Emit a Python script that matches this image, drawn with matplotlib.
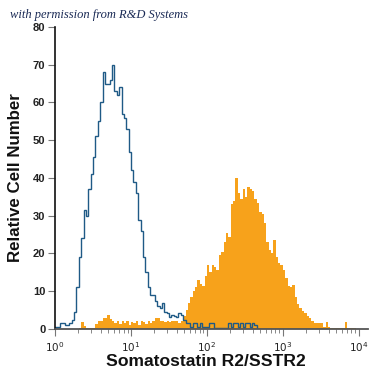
import numpy as np
import matplotlib
matplotlib.use("Agg")
import matplotlib.pyplot as plt
from matplotlib.ticker import LogLocator, LogFormatterMathtext, NullFormatter

# ---- data ----
# 128 log-spaced channels from 10^0 to 10^4
x_start_exp = 0
x_end_exp = 4
n_bins = 128

isotype_counts = [
    0.5, 0.5, 1.5, 1.5, 1.0, 1.0, 1.5, 2.3, 4.5, 11.0,
    19.0, 24.0, 31.5, 30.0, 37.0, 41.0, 45.5, 51.0, 55.0, 60.0,
    68.0, 65.0, 65.0, 66.0, 70.0, 63.0, 62.0, 64.0, 57.0, 56.0,
    53.0, 47.0, 42.0, 39.0, 36.0, 29.0, 26.0, 19.0, 15.0, 11.0,
    9.0, 9.0, 7.5, 6.0, 5.5, 6.8, 4.5, 4.2, 3.2, 3.7,
    3.5, 3.2, 4.2, 3.7, 2.5, 1.5, 1.5, 0.5, 1.5, 1.5,
    0.5, 1.5, 0.4, 0.4, 0.4, 1.5, 1.5, 0.3, 0.3, 0.3,
    0.3, 0.3, 0.3, 1.5, 0.5, 1.5, 1.5, 0.5, 1.5, 0.5,
    1.5, 1.5, 0.5, 1.5, 1.0, 0.0, 0.0, 0.0, 0.0, 0.0,
    0.0, 0.0, 0.0, 0.0, 0.0, 0.0, 0.0, 0.0, 0.0, 0.0,
    0.0, 0.0, 0.0, 0.0, 0.0, 0.0, 0.0, 0.0, 0.0, 0.0,
    0.0, 0.0, 0.0, 0.0, 0.0, 0.0, 0.0, 0.0, 0.0, 0.0,
    0.0, 0.0, 0.0, 0.0, 0.0, 0.0, 0.0, 0.0,
]

sstr2_counts = [
    0.0, 0.0, 0.0, 0.0, 0.0, 0.0, 0.0, 0.0, 0.0, 0.0,
    0.3, 1.8, 0.8, 0.2, 0.2, 0.2, 0.3, 1.2, 2.2, 2.0,
    2.8, 3.0, 3.7, 2.6, 2.2, 1.5, 2.0, 1.2, 2.0, 1.5,
    2.0, 1.0, 1.8, 1.6, 2.0, 1.0, 2.0, 1.8, 1.2, 2.0,
    1.6, 2.2, 3.0, 3.0, 2.2, 2.0, 1.8, 2.0, 1.8, 2.0,
    2.0, 2.2, 1.6, 2.0, 3.5, 5.0, 7.0, 8.5, 10.0, 11.0,
    13.0, 12.0, 11.5, 14.0, 17.0, 15.0, 17.0, 16.5, 15.5, 19.5,
    20.5, 23.0, 25.5, 24.5, 33.0, 34.0, 40.0, 36.0, 34.5, 37.0,
    35.0, 37.5, 37.0, 36.5, 34.5, 33.5, 31.0, 30.5, 28.0, 23.0,
    21.0, 20.0, 23.5, 19.0, 17.5, 17.0, 15.5, 13.5, 11.5, 11.0,
    11.6, 8.5, 6.5, 5.5, 4.8, 4.2, 3.5, 3.0, 2.2, 1.6,
    1.5, 1.6, 1.6, 0.6, 1.8, 0.4, 0.3, 0.2, 0.2, 0.2,
    0.2, 0.3, 1.8, 0.3, 0.2, 0.2, 0.2, 0.1,
]

y_ticks = [0, 10, 20, 30, 40, 50, 60, 70, 80]
x_label = "Somatostatin R2/SSTR2"
y_label = "Relative Cell Number"
credit = "with permission from R&D Systems"

# ---- plot ----
fig = plt.figure(figsize=(3.75, 3.75), dpi=100)
ax = fig.add_axes([0.147, 0.1227, 0.834, 0.8053])

edges = np.logspace(x_start_exp, x_end_exp, n_bins + 1)
ax.stairs(sstr2_counts, edges, fill=True, color="#f7a21b", linewidth=0)
ax.stairs(isotype_counts, edges, color="#1f5a86", linewidth=1.0)

ax.set_xscale("log")
ax.set_xlim(1, 10 ** 4.12)
ax.set_ylim(0, 80)
ax.set_yticks(y_ticks)

ax.xaxis.set_major_locator(LogLocator(base=10, numticks=10))
ax.xaxis.set_minor_locator(LogLocator(base=10, subs=np.arange(2, 10), numticks=20))
ax.xaxis.set_major_formatter(LogFormatterMathtext())
ax.xaxis.set_minor_formatter(NullFormatter())

for s in ("top", "right"):
    ax.spines[s].set_visible(False)
ax.spines["left"].set_color("#111111")
ax.spines["left"].set_linewidth(1.2)
ax.spines["bottom"].set_color("#555555")
ax.spines["bottom"].set_linewidth(1.3)

ax.tick_params(axis="y", which="major", length=5, width=0.8, color="#777777",
               labelsize=8, labelcolor="#222222", pad=2)
ax.tick_params(axis="x", which="major", length=5, width=0.8, color="#777777",
               labelsize=7.5, labelcolor="#222222", pad=3)
ax.tick_params(axis="x", which="minor", length=3, width=0.7, color="#888888")
for lab in ax.get_yticklabels():
    lab.set_fontweight("bold")
    lab.set_family("Liberation Sans")

ax.set_xlabel(x_label, fontsize=12.6, fontweight="bold", family="Liberation Sans",
              color="#111111")
ax.xaxis.set_label_coords(0.482, -0.083)
ax.set_ylabel(y_label, fontsize=12.2, fontweight="bold", family="Liberation Sans",
              color="#111111", labelpad=7)

fig.text(0.027, 0.96, credit, fontsize=9, style="italic", family="Liberation Serif",
         color="#1a2a55", ha="left", va="center")

fig.savefig("out.png", dpi=100)
